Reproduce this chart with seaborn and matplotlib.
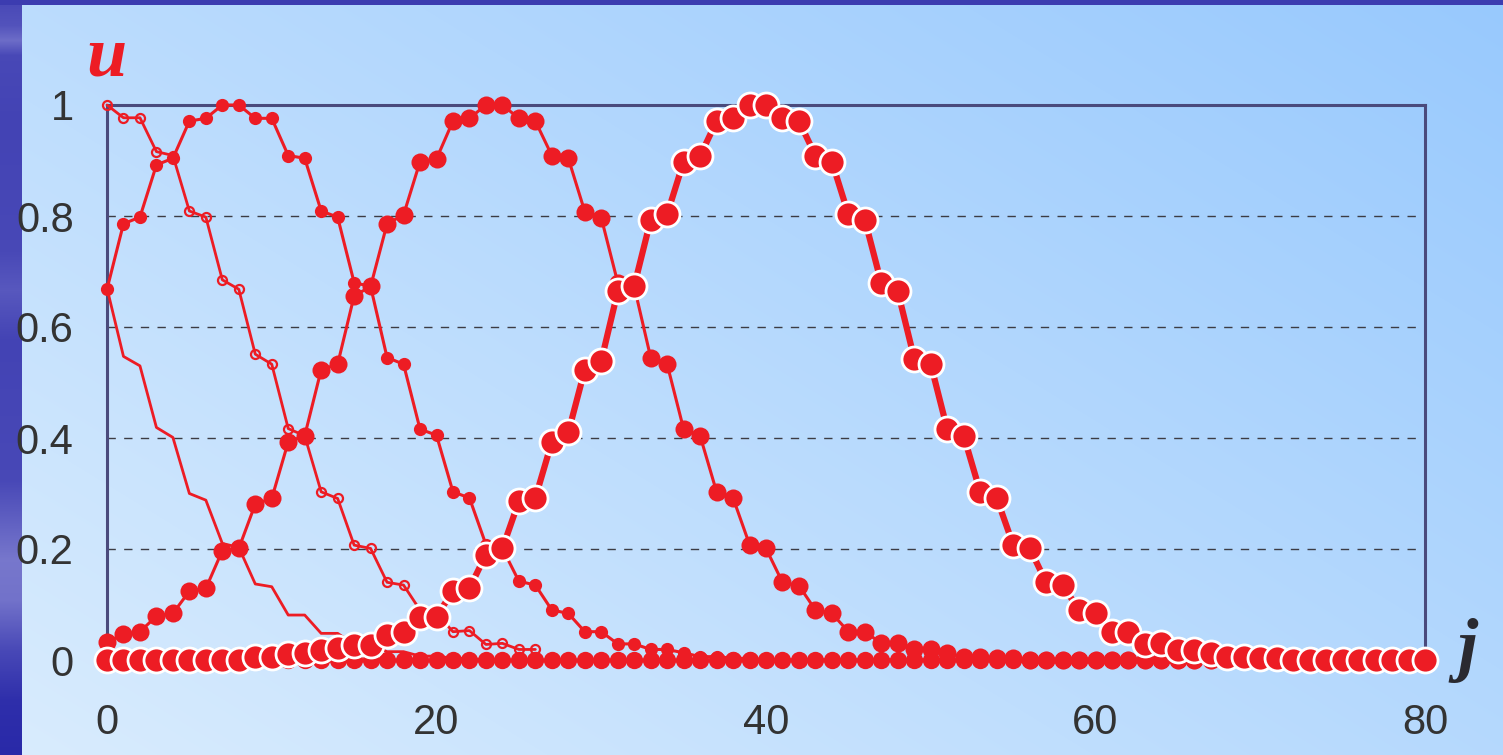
import numpy as np
import pandas as pd
import matplotlib
matplotlib.use("Agg")
import matplotlib.pyplot as plt
import seaborn as sns

# grid index j = 0 .. 80
j_all = list(range(81))

# profile shifted left of the origin (plain line)
u_line = [0.67, 0.547, 0.53, 0.419, 0.401, 0.30, 0.288, 0.21, 0.203, 0.137,
          0.132, 0.081, 0.081, 0.048, 0.048, 0.028, 0.028, 0.015, 0.015, 0.007,
          0.007, 0.003, 0.003, 0.0, 0.0]

# profile peaked at j = 0 (open circles)
u_open = [1.0, 0.977, 0.977, 0.916, 0.909, 0.809, 0.798, 0.685, 0.668, 0.551,
          0.533, 0.417, 0.404, 0.303, 0.291, 0.207, 0.201, 0.14, 0.135, 0.09,
          0.084, 0.051, 0.053, 0.028, 0.03, 0.019, 0.019]

# profile peaked near j = 7.5 (small dots)
u_small = [0.668, 0.786, 0.798, 0.892, 0.904, 0.971, 0.976, 1.0, 1.0, 0.976,
           0.976, 0.909, 0.904, 0.809, 0.798, 0.68, 0.673, 0.545, 0.533, 0.416,
           0.405, 0.303, 0.292, 0.208, 0.201, 0.142, 0.135, 0.09, 0.084, 0.051,
           0.051, 0.029, 0.029, 0.019, 0.019, 0.013, 0.006, 0.006, 0.003, 0.003] + [0.0] * 41

# profile peaked near j = 23.5 (medium dots)
u_medium = [0.033, 0.046, 0.051, 0.079, 0.084, 0.124, 0.129, 0.197, 0.201, 0.281,
            0.291, 0.393, 0.404, 0.523, 0.533, 0.656, 0.673, 0.786, 0.802, 0.898,
            0.903, 0.971, 0.976, 1.0, 1.0, 0.976, 0.971, 0.909, 0.904, 0.808,
            0.797, 0.68, 0.673, 0.545, 0.533, 0.416, 0.404, 0.303, 0.292, 0.208,
            0.201, 0.14, 0.134, 0.09, 0.084, 0.051, 0.051, 0.03, 0.03, 0.02,
            0.02, 0.012, 0.006, 0.006, 0.003, 0.003] + [0.0] * 25

# resting level u = 0 (medium dots)
u_rest = [0.0] * 81

# profile peaked near j = 39.5 (large dots, thick line)
u_large = [0.0] * 9 + [
    0.005, 0.005, 0.01, 0.012, 0.018, 0.021, 0.027, 0.027, 0.045, 0.051,
    0.078, 0.078, 0.125, 0.129, 0.19, 0.201, 0.286, 0.292, 0.393, 0.41,
    0.523, 0.539, 0.664, 0.674, 0.793, 0.803, 0.898, 0.908, 0.971, 0.976,
    1.0, 1.0, 0.976, 0.971, 0.909, 0.898, 0.803, 0.793, 0.679, 0.664,
    0.543, 0.533, 0.416, 0.404, 0.303, 0.292, 0.208, 0.202, 0.14, 0.135,
    0.09, 0.085, 0.051, 0.051, 0.029, 0.03, 0.018, 0.018, 0.012, 0.006,
    0.006, 0.003, 0.003] + [0.0] * 9

x_ticks = [0, 20, 40, 60, 80]
y_ticks = [0, 0.2, 0.4, 0.6, 0.8, 1.0]
y_tick_labels = ["0", "0.2", "0.4", "0.6", "0.8", "1"]

sns.set_style("white")
plt.rcParams["font.family"] = ["Liberation Sans", "DejaVu Sans"]

RED = "#ed1c24"
SPINE = "#4a4a7c"
TEXT = "#333333"

W, H = 1503, 755
fig = plt.figure(figsize=(W / 100, H / 100), dpi=100)

# ---- slide background: diagonal light-blue gradient with a dark left band
xx = np.linspace(0, 1, W)[None, :]
yy = np.linspace(0, 1, H)[:, None]
s = np.clip(0.55 * xx + 0.45 * (1 - yy), 0, 1)
light = np.array([0xd9, 0xec, 0xfd]) / 255
dark = np.array([0x98, 0xc9, 0xfd]) / 255
img = light + (dark - light) * s[..., None]

band_dark = np.array([0x24, 0x24, 0xa6]) / 255
band_light = np.array([0x8c, 0x8c, 0xd6]) / 255
py = np.array([0, 25, 40, 55, 120, 250, 290, 340, 480, 560, 600, 650, 700, 755])
pv = np.array([0.35, 0.45, 0.7, 0.35, 0.3, 0.35, 0.5, 0.3, 0.35, 0.8, 0.75, 0.35, 0.1, 0.05])
prof = np.interp(np.arange(H), py, pv)
band = band_dark + (band_light - band_dark) * prof[:, None]
img[:, :22] = band[:, None, :]
top_col = np.array([0x3c, 0x3c, 0xb0]) / 255
img[:5, :] = top_col

bg = fig.add_axes([0, 0, 1, 1], zorder=-5)
bg.imshow(img, aspect="auto", extent=[0, 1, 0, 1], interpolation="bilinear")
bg.set_axis_off()

# ---- main axes
ax = fig.add_axes([107 / W, 1 - 660 / H, (1425 - 107) / W, (660 - 105) / H])
ax.set_facecolor("none")

common = dict(ax=ax, color=RED, estimator=None, sort=False, clip_on=False, zorder=3)

sns.lineplot(data=pd.DataFrame({"j": j_all, "u": u_rest}), x="j", y="u",
             linewidth=2.2, marker="o", markersize=12.5, markeredgewidth=0, **common)
sns.lineplot(data=pd.DataFrame({"j": j_all[:len(u_line)], "u": u_line}), x="j", y="u",
             linewidth=2.0, **common)
sns.lineplot(data=pd.DataFrame({"j": j_all[:len(u_open)], "u": u_open}), x="j", y="u",
             linewidth=2.0, marker="o", markersize=6.5, markerfacecolor="none",
             markeredgecolor=RED, markeredgewidth=1.6, **common)
sns.lineplot(data=pd.DataFrame({"j": j_all, "u": u_small}), x="j", y="u",
             linewidth=2.2, marker="o", markersize=9.5, markeredgewidth=0, **common)
sns.lineplot(data=pd.DataFrame({"j": j_all, "u": u_medium}), x="j", y="u",
             linewidth=2.2, marker="o", markersize=13, markeredgewidth=0, **common)
sns.lineplot(data=pd.DataFrame({"j": j_all, "u": u_large}), x="j", y="u",
             linewidth=4.5, marker="o", markersize=18, markeredgecolor="white",
             markeredgewidth=2.0, **common)

ax.set_xlim(0, 80)
ax.set_ylim(0, 1)
ax.set_xticks(x_ticks)
ax.set_xticklabels([str(v) for v in x_ticks])
ax.set_yticks(y_ticks)
ax.set_yticklabels(y_tick_labels)
ax.set_xlabel("")
ax.set_ylabel("")

ax.tick_params(axis="both", direction="out", length=7, width=1.3, color="#4a4a5a",
               labelsize=30, labelcolor=TEXT)
ax.tick_params(axis="x", pad=24)
ax.tick_params(axis="y", pad=17)

ax.yaxis.grid(True, linestyle=(0, (6, 6)), color="#3c3c44", linewidth=1.0)
ax.xaxis.grid(False)
ax.set_axisbelow(True)

for side in ("top", "left", "right"):
    ax.spines[side].set_visible(True)
    ax.spines[side].set_color(SPINE)
    ax.spines[side].set_linewidth(2.2)
ax.spines["bottom"].set_visible(False)

fig.text(106 / W, 1 - 75 / H, "u", color=RED, fontsize=52, fontstyle="italic",
         fontweight="bold", family="Liberation Serif", ha="center", va="baseline")
fig.text(1468 / W, 1 - 668 / H, "j", color="#2a2a30", fontsize=52, fontstyle="italic",
         fontweight="bold", family="Liberation Serif", ha="center", va="baseline")

fig.savefig("out.png", dpi=100)
